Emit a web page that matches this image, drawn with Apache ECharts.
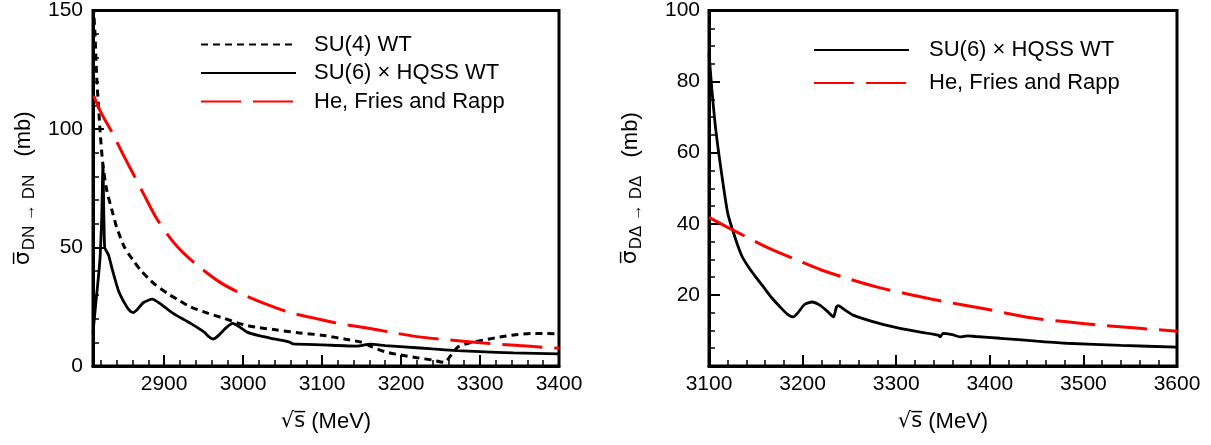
<!DOCTYPE html>
<html><head><meta charset="utf-8">
<script src="https://cdn.jsdelivr.net/npm/echarts@6/dist/echarts.min.js"></script>
<style>html,body{margin:0;padding:0;background:#fff}#c{width:1211px;height:445px}</style>
</head><body><div id="c"></div>
<script>
// ---- data (sqrt(s) in MeV, sigma in mb) ----
const leftXLabels = [2900, 3000, 3100, 3200, 3300, 3400];
const leftXMinor = [2820,2840,2860,2880,2920,2940,2960,2980,3020,3040,3060,3080,3120,3140,3160,3180,3220,3240,3260,3280,3320,3340,3360,3380];
const leftY = [0, 50, 100, 150];
const rightXLabels = [3100, 3200, 3300, 3400, 3500, 3600];
const rightY = [0, 20, 40, 60, 80, 100];

const su4WT_DN = [[2810.5,152],[2812.5,140],[2815,120],[2817.5,107],[2819,99],[2822.5,85],[2827.5,74],[2835,64.5],[2840,58.5],[2850,50],[2860,45],[2870,40.5],[2880,37],[2890,34],[2905,30.5],[2920,27.5],[2933,25],[2955,22.3],[2975,20.2],[3000,17.5],[3020,16.2],[3043,15.2],[3070,14],[3100,13],[3130,11.3],[3150,10],[3160,8.5],[3180,6],[3200,4.6],[3220,3.5],[3240,2.5],[3255,1.5],[3262,4],[3272,8],[3290,10],[3310,11.3],[3325,12.2],[3345,13.2],[3365,13.7],[3385,13.7],[3400,13.6]];
const su6HQSS_DN = [[2810,14],[2814,28],[2817,38],[2819,46],[2821,62],[2822.6,85],[2823.8,62],[2824.8,50],[2827,48.5],[2830,46.5],[2835,40],[2842,32],[2850,26.5],[2856,23.5],[2861,22.5],[2866,23.8],[2874,26.8],[2885,28.2],[2895,26.3],[2911,22.3],[2933,18.1],[2950,14.5],[2957,12.3],[2962,11.4],[2968,12.6],[2978,16],[2987,18],[2995,16.6],[3005,14.3],[3020,12.8],[3034,11.8],[3059,10.1],[3063,9.3],[3100,8.9],[3144,8.4],[3161,9.2],[3180,8.6],[3199,8.2],[3240,7.2],[3271,6.5],[3300,6.1],[3342,5.5],[3400,5.1]];
const hfr_DN = [[2811,114],[2820,107],[2835,98],[2850,88],[2861,81],[2875,72],[2891,62],[2910,53],[2925,47.5],[2945,41.7],[2970,35.5],[2996,30.8],[3030,26],[3059,22.6],[3090,20.2],[3120,18],[3157,16],[3186,14.3],[3220,12.4],[3260,11],[3304,9.7],[3350,8.6],[3400,7.5]];

const su6HQSS_DDelta = [[3100,88],[3103,78],[3107,67],[3113,55],[3120,43],[3128,36],[3135,31],[3142,27.9],[3150,25],[3158,22.3],[3167,19.2],[3176,16.6],[3184,14.5],[3190,13.8],[3195,15],[3202,17.3],[3210,18],[3218,17.2],[3226,15.5],[3233,13.8],[3236,16.5],[3238,17],[3245,15.8],[3254,14.3],[3275,12.5],[3297,11],[3320,9.8],[3345,8.7],[3347,8.2],[3350,9.2],[3360,8.8],[3368,8.2],[3376,8.5],[3385,8.3],[3411,7.8],[3450,7],[3482,6.4],[3540,5.8],[3600,5.3]];
const hfr_DDelta = [[3100,41.8],[3120,39],[3140,36.3],[3165,33],[3194,29.8],[3220,27],[3247,24.7],[3280,22.2],[3318,19.9],[3350,18.2],[3390,16.3],[3446,13.5],[3480,12.5],[3518,11.5],[3560,10.6],[3600,9.8]];

const names = ['SU(4) WT', 'SU(6) \u00d7 HQSS WT', 'He, Fries and Rapp'];

// ---- chart ----
const FONT = '"Liberation Sans", Arial, Helvetica, sans-serif';
const chart = echarts.init(document.getElementById('c'), null, {renderer: 'canvas'});
const tickTxt = {color: '#000', fontFamily: FONT, fontSize: 21};
const legTxt = {color: '#000', fontFamily: FONT, fontSize: 22, lineHeight: 22};
const axLine = {show: true, onZero: false, lineStyle: {color: '#000', width: 3}};
const majTick = {show: true, inside: true, length: 11, lineStyle: {color: '#000', width: 2}};
const minTick = {show: true, splitNumber: 5, length: 6, lineStyle: {color: '#000', width: 1.5}};
const yRich = {
  s: {fontFamily: '"DejaVu Sans", sans-serif', fontSize: 22, color: '#000'},
  sub: {fontFamily: FONT, fontSize: 17, color: '#000', verticalAlign: 'bottom', padding: [12, 12, 0, 1]},
  t: {fontFamily: FONT, fontSize: 22, color: '#000'}
};
const xName = '{q|\u221as\u0305} (MeV)';
const xRich = {q: {fontFamily: '"DejaVu Sans", sans-serif', fontSize: 21, color: '#000'}};
const xNameStyle = {color: '#000', fontFamily: FONT, fontSize: 22, rich: xRich};
const numFmt = v => String(v);

const option = {
  animation: false,
  backgroundColor: '#fff',
  grid: [
    {left: 93, top: 10, width: 466, height: 356, show: true, borderColor: '#000', borderWidth: 3, backgroundColor: 'transparent'},
    {left: 709, top: 10, width: 468, height: 356, show: true, borderColor: '#000', borderWidth: 3, backgroundColor: 'transparent'}
  ],
  legend: [
    {data: names, left: 200, top: 33.5, padding: 0, orient: 'vertical', itemWidth: 95, itemHeight: 14, itemGap: 6.5,
     itemStyle: {opacity: 0}, textStyle: Object.assign({padding: [0, 0, 0, 13]}, legTxt)},
    {data: names.slice(1), left: 813, top: 39, padding: 0, orient: 'vertical', itemWidth: 95, itemHeight: 14, itemGap: 11,
     itemStyle: {opacity: 0}, textStyle: Object.assign({padding: [0, 0, 0, 15]}, legTxt)}
  ],
  xAxis: [
    {gridIndex: 0, type: 'value', min: 2810, max: 3400, position: 'bottom',
     axisLine: axLine, axisTick: Object.assign({customValues: leftXLabels}, majTick),
     axisLabel: Object.assign({customValues: leftXLabels, margin: 8, formatter: numFmt}, tickTxt), splitLine: {show: false},
     name: xName, nameLocation: 'middle', nameGap: 45, nameTextStyle: xNameStyle},
    {gridIndex: 0, type: 'value', min: 2810, max: 3400, position: 'bottom',
     axisLine: {show: false}, axisTick: Object.assign({customValues: leftXMinor}, majTick, {length: 6, lineStyle: {color: '#000', width: 1.5}}),
     axisLabel: {show: false}, splitLine: {show: false}},
    {gridIndex: 1, type: 'value', min: rightXLabels[0], max: rightXLabels[rightXLabels.length - 1], interval: 100, position: 'bottom',
     axisLine: axLine, axisTick: majTick, minorTick: minTick, splitLine: {show: false}, minorSplitLine: {show: false},
     axisLabel: Object.assign({margin: 8, formatter: numFmt}, tickTxt),
     name: xName, nameLocation: 'middle', nameGap: 45, nameTextStyle: xNameStyle}
  ],
  yAxis: [
    {gridIndex: 0, type: 'value', min: leftY[0], max: leftY[leftY.length - 1], interval: 50,
     axisLine: axLine, axisTick: majTick, minorTick: minTick, splitLine: {show: false},
     axisLabel: Object.assign({margin: 10, formatter: numFmt}, tickTxt),
     name: '{s|\u03c3\u0305}{sub|DN \u2192 DN}{t| (mb)}', nameLocation: 'middle', nameRotate: 90, nameGap: 55,
     nameTextStyle: {rich: yRich}},
    {gridIndex: 1, type: 'value', min: rightY[0], max: rightY[rightY.length - 1], interval: 20,
     axisLine: axLine, axisTick: majTick, minorTick: Object.assign({}, minTick, {splitNumber: 4}), splitLine: {show: false},
     axisLabel: Object.assign({margin: 9, formatter: v => (v === 0 ? '' : String(v))}, tickTxt),
     name: '{s|\u03c3\u0305}{sub|D\u0394 \u2192 D\u0394}{t| (mb)}', nameLocation: 'middle', nameRotate: 90, nameGap: 64,
     nameTextStyle: {rich: yRich}}
  ],
  series: [
    {name: names[0], type: 'line', xAxisIndex: 0, yAxisIndex: 0, data: su4WT_DN, showSymbol: false, symbol: 'none', smooth: 0.25,
     lineStyle: {color: '#000', width: 3, type: [7, 5]}, itemStyle: {color: '#000'}},
    {name: names[1], type: 'line', xAxisIndex: 0, yAxisIndex: 0, data: su6HQSS_DN, showSymbol: false, symbol: 'none', smooth: 0.2,
     lineStyle: {color: '#000', width: 2.8, type: 'solid'}, itemStyle: {color: '#000'}},
    {name: names[2], type: 'line', xAxisIndex: 0, yAxisIndex: 0, data: hfr_DN, showSymbol: false, symbol: 'none', smooth: 0.3,
     lineStyle: {color: '#ff0000', width: 3, type: [40, 12]}, itemStyle: {color: '#ff0000'}},
    {name: names[1], type: 'line', xAxisIndex: 2, yAxisIndex: 1, data: su6HQSS_DDelta, showSymbol: false, symbol: 'none', smooth: 0.2,
     lineStyle: {color: '#000', width: 2.8, type: 'solid'}, itemStyle: {color: '#000'}},
    {name: names[2], type: 'line', xAxisIndex: 2, yAxisIndex: 1, data: hfr_DDelta, showSymbol: false, symbol: 'none', smooth: 0.3,
     lineStyle: {color: '#ff0000', width: 3, type: [40, 12]}, itemStyle: {color: '#ff0000'}}
  ]
};
chart.setOption(option);
</script>
</body></html>
